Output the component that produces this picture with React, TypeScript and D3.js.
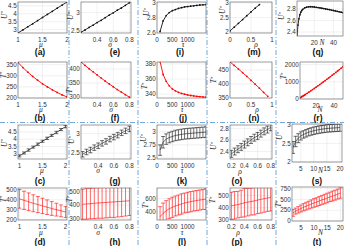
import * as d3 from "d3";

// ---- data ----
const mu = [1, 1.1, 1.2, 1.3, 1.4, 1.5, 1.6, 1.7, 1.8, 1.9, 2];
const aU = [2.79, 2.985, 3.18, 3.37, 3.57, 3.765, 3.96, 4.155, 4.35, 4.545, 4.74];
const bT = [360, 337, 316, 297, 280, 264, 250, 237, 225, 214, 205];
const cU = [2.86, 3.06, 3.26, 3.46, 3.66, 3.86, 4.06, 4.26, 4.46, 4.66, 4.86];
const cErr = [0.07, 0.07, 0.08, 0.07, 0.08, 0.07, 0.08, 0.07, 0.08, 0.07, 0.08];
const dT = [410, 395, 380, 365, 352, 338, 325, 312, 300, 288, 276];
const dErr = [95, 92, 90, 86, 82, 78, 74, 70, 65, 60, 55];

const sigma = [0.2, 0.25, 0.3, 0.35, 0.4, 0.45, 0.5, 0.55, 0.6, 0.65, 0.7, 0.75, 0.8];
const eU = [2.47, 2.53, 2.6, 2.66, 2.73, 2.79, 2.86, 2.93, 2.99, 3.06, 3.12, 3.19, 3.26];
const fT = [425, 413, 401, 390, 379, 368, 357, 347, 337, 327, 318, 309, 300];
const gU = [2.47, 2.53, 2.58, 2.64, 2.69, 2.75, 2.8, 2.86, 2.91, 2.96, 3.02, 3.07, 3.12];
const gErr = [0.07, 0.07, 0.07, 0.07, 0.07, 0.07, 0.07, 0.07, 0.07, 0.07, 0.07, 0.07, 0.07];
const hT = [405, 408, 410, 413, 415, 417, 419, 421, 423, 425, 427, 429, 431];
const hErr = [110, 112, 111, 113, 112, 114, 113, 112, 114, 113, 112, 110, 108];

const tau = [100, 200, 300, 400, 500, 600, 700, 800, 900, 1000, 1100, 1200, 1300, 1400, 1500, 1600];
const iU = [2.62, 2.76, 2.83, 2.87, 2.895, 2.91, 2.925, 2.935, 2.945, 2.95, 2.955, 2.96, 2.965, 2.97, 2.972, 2.975];
const jT = [383, 366, 357, 351, 347, 344.5, 342.5, 341, 340, 339, 338.3, 337.7, 337.2, 336.8, 336.4, 336];
const kU = [2.65, 2.8, 2.86, 2.89, 2.91, 2.93, 2.94, 2.95, 2.96, 2.965, 2.97, 2.975, 2.98, 2.985, 2.99, 2.995];
const kErr = [0.1, 0.11, 0.1, 0.1, 0.1, 0.1, 0.1, 0.1, 0.1, 0.1, 0.1, 0.1, 0.1, 0.1, 0.1, 0.1];
const lT = [330, 380, 420, 450, 470, 490, 505, 520, 535, 545, 555, 565, 572, 580, 587, 593];
const lErr = [150, 155, 150, 148, 152, 150, 150, 153, 148, 150, 152, 150, 150, 151, 149, 155];

const rhoLine = [0, 0.1, 0.2, 0.3, 0.4, 0.5, 0.6, 0.7, 0.8, 0.9];
const mU = [2.04, 2.17, 2.3, 2.43, 2.56, 2.69, 2.82, 2.94];
const nT = [478, 466, 453, 440, 427, 413, 399, 385, 370, 356];
const rhoErr = [0.2, 0.25, 0.3, 0.35, 0.4, 0.45, 0.5, 0.55, 0.6, 0.65, 0.7, 0.75, 0.8];
const oU = [2.36, 2.4, 2.44, 2.48, 2.52, 2.56, 2.6, 2.64, 2.67, 2.71, 2.75, 2.78, 2.82];
const oErr = [0.06, 0.06, 0.06, 0.06, 0.06, 0.06, 0.06, 0.06, 0.06, 0.06, 0.06, 0.06, 0.06];
const pT = [415, 420, 425, 432, 440, 445, 450, 455, 462, 468, 473, 478, 483];
const pErr = [110, 112, 108, 110, 115, 112, 110, 113, 110, 112, 110, 108, 110];

const nLine = [2, 3, 4, 5, 6, 7, 8, 10, 12, 14, 16, 18, 20, 22, 24, 26, 28, 30, 32, 34, 36, 38, 40, 42, 44, 46, 48, 50];
const qU = [2.3, 2.52, 2.63, 2.7, 2.745, 2.775, 2.795, 2.82, 2.832, 2.838, 2.84, 2.839, 2.835, 2.83, 2.825, 2.82, 2.814, 2.808, 2.801, 2.795, 2.788, 2.781, 2.774, 2.767, 2.76, 2.752, 2.745, 2.737];
const rT = [65, 98, 131, 164, 196, 229, 262, 332, 403, 474, 545, 616, 689, 763, 837, 913, 990, 1066, 1145, 1223, 1303, 1382, 1463, 1545, 1627, 1711, 1796, 1881];
const nErr = [2, 3, 4, 5, 6, 7, 8, 9, 10, 11, 12, 13, 14, 15, 16, 17, 18, 19, 20];
const sU = [2.39, 2.55, 2.64, 2.7, 2.74, 2.77, 2.8, 2.82, 2.84, 2.855, 2.87, 2.88, 2.89, 2.9, 2.905, 2.91, 2.915, 2.92, 2.925];
const sErr = [0.16, 0.14, 0.12, 0.11, 0.1, 0.1, 0.1, 0.1, 0.1, 0.1, 0.1, 0.1, 0.1, 0.1, 0.1, 0.1, 0.1, 0.1, 0.1];
const tT = [190, 230, 260, 290, 320, 345, 370, 395, 420, 440, 465, 490, 510, 535, 560, 580, 600, 625, 650];
const tErr = [80, 70, 75, 80, 85, 90, 90, 95, 100, 100, 105, 105, 110, 110, 110, 115, 115, 115, 120];

const RED = "#ff0000";
const BLACK = "#111111";
const SEP = "#4a95d6";
const SANS = "'Liberation Sans', Arial, sans-serif";
const SERIF = "'Liberation Serif', 'Times New Roman', serif";

// grid geometry: plot boxes per column / row
const colX: [number, number][] = [[18, 67], [81, 131], [157, 206], [230, 272], [292, 343]];
const rowY: [number, number][] = [[2, 33], [62, 98], [125, 159], [188, 220]];
const titleY = [55, 120.5, 183.5, 244.5];

interface PanelSpec {
  key: string;
  col: number;
  row: number;
  xs: number[];
  ys: number[];
  err?: number[];
  xd: [number, number];
  yd: [number, number];
  xt: number[];
  yt: number[];
  color: string;
  xl: [string, number, number]; // label, x, baseline y
  yl: [string, number, number]; // label, x, centre y
  tx: number; // title centre x
  box?: [number, number, number, number];
}

const panels: PanelSpec[] = [
  { key: "a", col: 0, row: 0, xs: mu, ys: aU, xd: [1, 2], yd: [2.79, 4.74], xt: [1, 1.5, 2], yt: [3, 3.5, 4, 4.5], color: BLACK, xl: ["μ", 41, 47], yl: ["U", 6.5, 15], tx: 40 },
  { key: "b", col: 0, row: 1, xs: mu, ys: bT, xd: [1, 2], yd: [200, 362], xt: [1, 1.5, 2], yt: [200, 250, 300, 350], color: RED, xl: ["μ", 41, 112], yl: ["T", 5.5, 75], tx: 40 },
  { key: "c", col: 0, row: 2, xs: mu, ys: cU, err: cErr, xd: [0.97, 2.03], yd: [2.65, 4.97], xt: [1, 1.5, 2], yt: [3, 3.5, 4, 4.5], color: BLACK, xl: ["μ", 42, 173], yl: ["U", 6.5, 143], tx: 40 },
  { key: "d", col: 0, row: 3, xs: mu, ys: dT, err: dErr, xd: [0.97, 2.03], yd: [195, 520], xt: [1, 1.5, 2], yt: [200, 300, 400, 500], color: RED, xl: ["μ", 41, 234.5], yl: ["T", 5.5, 199], tx: 40 },

  { key: "e", col: 1, row: 0, xs: sigma, ys: eU, xd: [0.2, 0.82], yd: [2.45, 3.28], xt: [0.4, 0.6, 0.8], yt: [2.5, 3], color: BLACK, xl: ["σ", 110, 47], yl: ["U", 73, 16], tx: 115 },
  { key: "f", col: 1, row: 1, xs: sigma, ys: fT, xd: [0.2, 0.82], yd: [297, 425], xt: [0.4, 0.6, 0.8], yt: [300, 350, 400], color: RED, xl: ["σ", 111, 112], yl: ["T", 72, 90], tx: 115 },
  { key: "g", col: 1, row: 2, xs: sigma, ys: gU, err: gErr, xd: [0.18, 0.82], yd: [2.35, 3.22], xt: [0.4, 0.6, 0.8], yt: [2.5, 3], color: BLACK, xl: ["σ", 98, 173], yl: ["U", 74, 140], tx: 115 },
  { key: "h", col: 1, row: 3, xs: sigma, ys: hT, err: hErr, xd: [0.18, 0.82], yd: [290, 525], xt: [0.4, 0.6, 0.8], yt: [300, 400, 500], color: RED, xl: ["σ", 98, 234.5], yl: ["T", 72, 199], tx: 115 },

  { key: "i", col: 2, row: 0, xs: tau, ys: iU, xd: [0, 1600], yd: [2.6, 3.01], xt: [0, 500, 1000], yt: [2.6, 2.8, 3], color: BLACK, xl: ["τ", 183, 47], yl: ["U", 149, 12], tx: 180 },
  { key: "j", col: 2, row: 1, xs: tau, ys: jT, xd: [0, 1600], yd: [335, 382.5], xt: [0, 500, 1000], yt: [340, 360, 380], color: RED, xl: ["τ", 182, 112], yl: ["T", 147, 86], tx: 183 },
  { key: "k", col: 2, row: 2, xs: tau, ys: kU, err: kErr, xd: [0, 1600], yd: [2.48, 3.13], xt: [0, 500, 1000], yt: [2.5, 2.75, 3], color: BLACK, xl: ["τ", 182, 173], yl: ["U", 146, 138], tx: 182 },
  { key: "l", col: 2, row: 3, xs: tau, ys: lT, err: lErr, xd: [0, 1600], yd: [280, 760], xt: [0, 500, 1000], yt: [400, 600], color: RED, xl: ["τ", 182, 234.5], yl: ["T", 148, 205], tx: 182 },

  { key: "m", col: 3, row: 0, xs: rhoLine, ys: mU, xd: [0, 1], yd: [1.97, 3.03], xt: [0, 0.5, 1], yt: [2, 2.5, 3], color: BLACK, xl: ["ρ", 256, 47], yl: ["U", 225, 10], tx: 254 },
  { key: "n", col: 3, row: 1, xs: rhoLine, ys: nT, xd: [0, 1], yd: [350, 478], xt: [0, 0.5, 1], yt: [350, 400, 450], color: RED, xl: ["ρ", 257, 112], yl: ["T", 216, 80], tx: 254 },
  { key: "o", col: 3, row: 2, xs: rhoErr, ys: oU, err: oErr, xd: [0.18, 0.82], yd: [2.27, 2.86], xt: [0.2, 0.4, 0.6, 0.8], yt: [2.4, 2.6, 2.8], color: BLACK, xl: ["ρ", 240, 174], yl: ["U", 216, 146], tx: 237 },
  { key: "p", col: 3, row: 3, xs: rhoErr, ys: pT, err: pErr, xd: [0.18, 0.82], yd: [300, 560], xt: [0.2, 0.4, 0.6, 0.8], yt: [300, 400, 500], color: RED, xl: ["ρ", 238, 234.5], yl: ["T", 215, 200], tx: 237 },

  { key: "q", col: 4, row: 0, xs: nLine, ys: qU, xd: [2, 50], yd: [2.33, 2.94], xt: [20, 40], yt: [2.4, 2.6, 2.8], color: BLACK, xl: ["N", 322, 44.5], yl: ["U", 284, 16], tx: 318, box: [297, 343, 1, 36] },
  { key: "r", col: 4, row: 1, xs: nLine, ys: rT, xd: [2, 50], yd: [0, 2150], xt: [20, 40], yt: [0, 1000, 2000], color: RED, xl: ["N", 320, 112], yl: ["T", 286, 76], tx: 318, box: [300, 343, 62, 99] },
  { key: "s", col: 4, row: 2, xs: nErr, ys: sU, err: sErr, xd: [1.6, 20.8], yd: [2, 3.02], xt: [5, 10, 15, 20], yt: [2, 2.5, 3], color: BLACK, xl: ["N", 320.5, 173], yl: ["U", 282, 136], tx: 317, box: [292, 342, 124, 162] },
  { key: "t", col: 4, row: 3, xs: nErr, ys: tT, err: tErr, xd: [1.6, 21], yd: [0, 790], xt: [5, 10, 15, 20], yt: [0, 250, 500, 750], color: RED, xl: ["N", 320.5, 234.5], yl: ["T", 281, 204], tx: 317, box: [292, 343, 187, 221] },
];

function Panel({ p }: { p: PanelSpec }) {
  const [x0, x1, y0, y1] = p.box ?? [colX[p.col][0], colX[p.col][1], rowY[p.row][0], rowY[p.row][1]];
  const x = d3.scaleLinear().domain(p.xd).range([x0, x1]);
  const y = d3.scaleLinear().domain(p.yd).range([y1, y0]);
  const line = d3
    .line<number>()
    .x((_, i) => x(p.xs[i]))
    .y((d) => y(d));
  const clip = `clip-${p.key}`;
  const cap = 2;

  return (
    <g>
      <defs>
        <clipPath id={clip}>
          <rect x={x0} y={y0} width={x1 - x0} height={y1 - y0} />
        </clipPath>
      </defs>
      {p.xt.map((t) => (
        <line key={"gx" + t} x1={x(t)} x2={x(t)} y1={y0} y2={y1} stroke="#e3e3e3" strokeWidth={0.5} />
      ))}
      {p.yt.map((t) => (
        <line key={"gy" + t} x1={x0} x2={x1} y1={y(t)} y2={y(t)} stroke="#e3e3e3" strokeWidth={0.5} />
      ))}
      <g clipPath={`url(#${clip})`}>
        <path d={line(p.ys) ?? ""} fill="none" stroke={p.color} strokeWidth={p.err ? 0.6 : 0.9} />
        {p.err
          ? p.ys.map((v, i) => {
              const e = p.err![i];
              const cx = x(p.xs[i]);
              return (
                <g key={i} stroke={p.color} strokeWidth={0.6}>
                  <line x1={cx} x2={cx} y1={y(v - e)} y2={y(v + e)} />
                  <line x1={cx - cap} x2={cx + cap} y1={y(v - e)} y2={y(v - e)} />
                  <line x1={cx - cap} x2={cx + cap} y1={y(v + e)} y2={y(v + e)} />
                </g>
              );
            })
          : p.ys.map((v, i) => <circle key={i} cx={x(p.xs[i])} cy={y(v)} r={0.9} fill={p.color} />)}
      </g>
      <rect x={x0} y={y0} width={x1 - x0} height={y1 - y0} fill="none" stroke="#5a5a5a" strokeWidth={0.6} />
      {p.yt.map((t) => (
        <text key={"ty" + t} x={x0 - 1.3} y={y(t)} dy="0.35em" textAnchor="end" fontSize={6.3} fontFamily={SANS} fill="#333">
          {String(t)}
        </text>
      ))}
      {p.xt.map((t) => (
        <text key={"tx" + t} x={x(t)} y={y1 + 8.5} textAnchor="middle" fontSize={6.3} fontFamily={SANS} fill="#333">
          {String(t)}
        </text>
      ))}
      <text x={p.xl[1]} y={p.xl[2]} textAnchor="middle" fontSize={7.5} fontStyle="italic" fontFamily={SERIF} fill="#222">
        {p.xl[0]}
      </text>
      <text
        transform={`translate(${p.yl[1]},${p.yl[2]}) rotate(-90)`}
        textAnchor="middle"
        fontSize={7.5}
        fontStyle="italic"
        fontFamily={SERIF}
        fill="#222"
      >
        {p.yl[0]}
        <tspan dy={-2.5} fontSize={5}>*</tspan>
      </text>
      <text x={p.tx} y={titleY[p.row]} textAnchor="middle" fontSize={8.5} fontWeight="bold" fontFamily={SANS} fill="#111">
        ({p.key})
      </text>
    </g>
  );
}

const vSeps = [69, 138, 207, 276];
const hSeps = [122.5];

export default function App() {
  return (
    <svg
      width={344}
      height={246}
      viewBox="0 0 344 246"
      style={{ position: "absolute", left: 0, top: 0, background: "#fff" }}
    >
      <rect width={344} height={246} fill="#fff" />
      {vSeps.map((v) => (
        <line key={"v" + v} x1={v} x2={v} y1={0} y2={246} stroke={SEP} strokeWidth={0.8} strokeDasharray="5,2,1,2" />
      ))}
      {hSeps.map((h) => (
        <line key={"h" + h} x1={0} x2={344} y1={h} y2={h} stroke={SEP} strokeWidth={0.8} strokeDasharray="5,2,1,2" />
      ))}
      {panels.map((p) => (
        <Panel key={p.key} p={p} />
      ))}
    </svg>
  );
}
